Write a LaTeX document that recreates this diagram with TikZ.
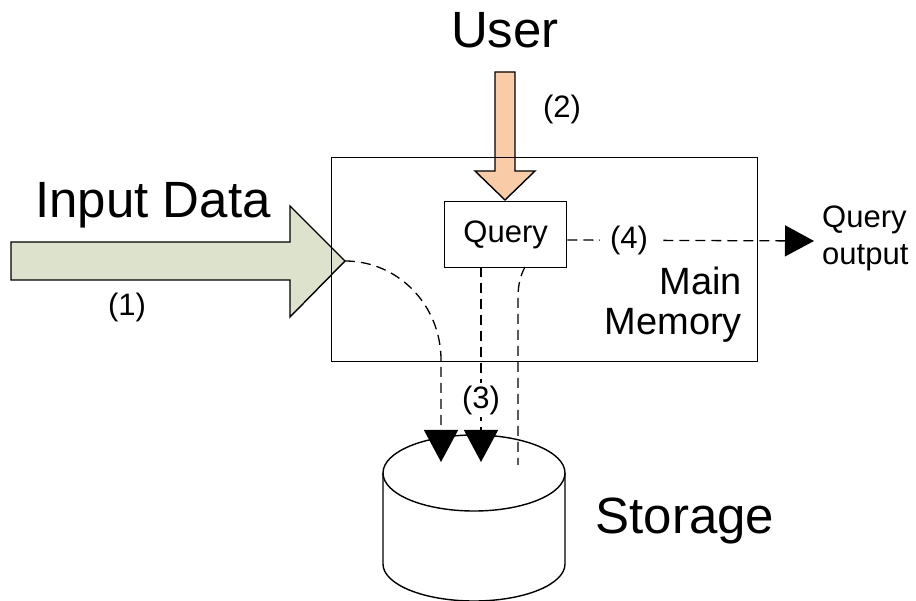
\documentclass[tikz,border=0pt]{standalone}
\usepackage{fontspec}
\setmainfont{Liberation Sans}
\usetikzlibrary{arrows.meta,calc}
\definecolor{ingreen}{RGB}{221,226,204}
\definecolor{userpeach}{RGB}{249,203,166}
\begin{document}
\begin{tikzpicture}[x=1pt,y=-1pt,
  shapeline/.style={line width=1.4pt},
  flow/.style={line width=1.3pt, dash pattern=on 10pt off 6pt},
  bigtip/.style={-{Triangle[length=32pt,width=34pt]}},
  outtip/.style={-{Triangle[length=29pt,width=31pt]}},
  bigtxt/.style={font=\fontsize{51}{60}\selectfont, inner sep=0pt, anchor=base},
  midtxt/.style={font=\fontsize{38}{44}\selectfont, inner sep=0pt, anchor=base east},
  lbl/.style={font=\fontsize{31}{36}\selectfont, inner sep=0pt},
  boxnode/.style={draw, shapeline, inner sep=0pt, anchor=north west}
]
\useasboundingbox (0,0) rectangle (916,601);

% input arrow
\draw[shapeline, fill=ingreen] (11,242) -- (290,242) -- (290,206) -- (345,261)
  -- (290,317) -- (290,280) -- (11,280) -- cycle;
\coordinate (intip) at (345,261);

% user arrow
\draw[shapeline, fill=userpeach] (495,72) -- (515,72) -- (515,171) -- (535,171)
  -- (505,200) -- (475,171) -- (495,171) -- cycle;

% main memory box
\node[boxnode, minimum width=426pt, minimum height=204pt] (mem) at (331,157) {};
% query box
\node[boxnode, lbl, minimum width=122pt, minimum height=66pt] (query) at (444,201) {Query};

% storage cylinder
\draw[shapeline, fill=white] (383,473) -- (383,564) arc[start angle=180, end angle=360, x radius=91pt, y radius=37pt]
  -- (565,473);
\draw[shapeline] (474,473) ellipse[x radius=91pt, y radius=38pt];
\coordinate (store1) at (441,462);
\coordinate (store2) at (481,462);
\coordinate (store3) at (518,465);
\coordinate (q3) at (481,267);
\coordinate (q4) at (525,267);
\coordinate (qout) at (814,241);

% dashed flows
\draw[flow, bigtip] (intip) .. controls (398,261) and (441,305) .. (441,360) -- (store1);
\draw[flow, bigtip] (q3) -- (store2);
\draw[flow] (q4) .. controls (519,278) and (518,288) .. (518,300) -- (store3);
\draw[flow, outtip] (query.east |- 0,240) -- node[pos=0.25, lbl, fill=white, inner xsep=10pt, inner ysep=2pt] (l4) {(4)} (qout);

% texts
\node[bigtxt] (user) at (505,48) {User};
\node[bigtxt] (indata) at (153,218) {Input Data};
\node[bigtxt] (storage) at (685,533) {Storage};
\node[midtxt] (main) at (742,295) {Main};
\node[midtxt] (memory) at (742,335) {Memory};
\node[lbl] (l1) at (127,307) {(1)};
\node[lbl] (l2) at (562,109) {(2)};
\node[lbl, fill=white, inner ysep=3pt, inner xsep=1pt] (l3) at (481,400) {(3)};
\node[lbl, anchor=base west] (qo1) at (822,228) {Query};
\node[lbl, anchor=base west] (qo2) at (822,265) {output};
\end{tikzpicture}
\end{document}
